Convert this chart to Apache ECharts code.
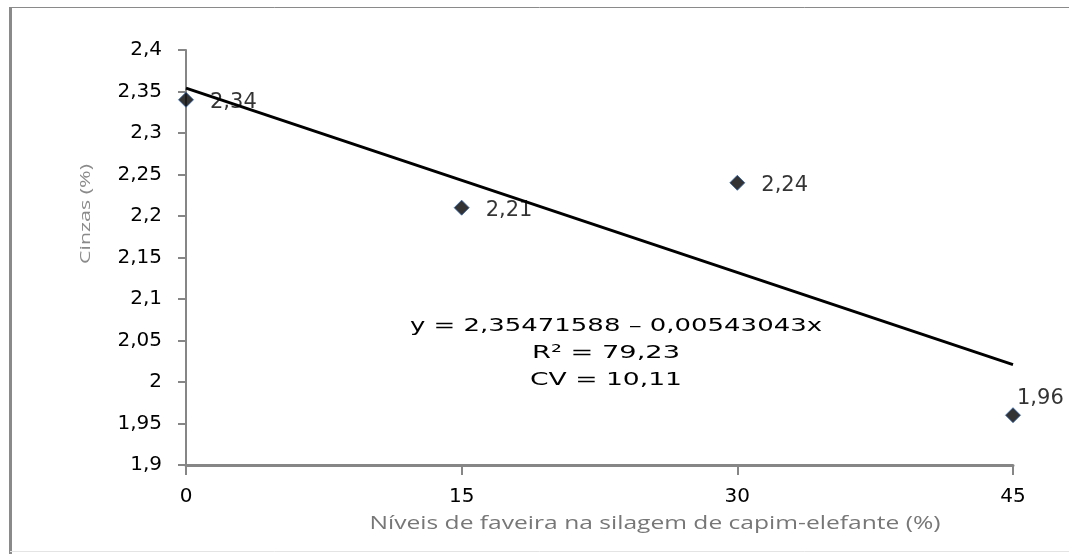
<!DOCTYPE html>
<html>
<head>
<meta charset="utf-8">
<script src="https://cdn.jsdelivr.net/npm/echarts@6/dist/echarts.min.js"></script>
<style>
  html, body { margin: 0; padding: 0; background: #fff; }
  #chart { width: 1069px; height: 554px; }
</style>
</head>
<body>
<div id="chart"></div>
<script>
// Ash content (%) by faveira level in elephant-grass silage
const levels = [0, 15, 30, 45];
const ash = [2.34, 2.21, 2.24, 1.96];
const xTicks = [0, 15, 30, 45];
const yRange = [1.9, 2.4];
const yStep = 0.05;
const equationLines = ['y = 2,35471588 – 0,00543043x', 'R² = 79,23', 'CV = 10,11'];
const xTitle = 'Níveis de faveira na silagem de capim-elefante (%)';
const yTitle = 'Cinzas (%)';

// least-squares linear trend through the observed points
function linearFit(xs, ys) {
  const n = xs.length;
  const mx = xs.reduce((a, b) => a + b, 0) / n;
  const my = ys.reduce((a, b) => a + b, 0) / n;
  let sxy = 0, sxx = 0;
  for (let i = 0; i < n; i++) {
    sxy += (xs[i] - mx) * (ys[i] - my);
    sxx += (xs[i] - mx) * (xs[i] - mx);
  }
  const b = sxy / sxx;
  return { a: my - b * mx, b: b };
}
const fit = linearFit(levels, ash);
const xFirst = levels[0], xLast = levels[levels.length - 1];
const trend = [[xFirst, fit.a + fit.b * xFirst], [xLast, fit.a + fit.b * xLast]];

const comma = v => (+(+v).toFixed(2)).toString().replace('.', ',');
const font = 'DejaVu Sans';
const axisGray = '#868686';

// widen free text horizontally so it spans the given width (the original uses a wide bitmap face)
const measureCtx = document.createElement('canvas').getContext('2d');
function stretch(text, cssFont, width) {
  measureCtx.font = cssFont;
  return width / measureCtx.measureText(text).width;
}
function wideText(text, cssFont, width, x, y, fill, opts) {
  const s = stretch(text, cssFont, width);
  return Object.assign({
    type: 'text', x: x, y: y, scaleX: s, scaleY: 1,
    style: { text: text, fill: fill, font: cssFont, align: 'center', verticalAlign: 'middle' }
  }, opts || {});
}

const eqFont = '18px "DejaVu Sans"';

const chart = echarts.init(document.getElementById('chart'), null, { renderer: 'canvas' });
chart.setOption({
  animation: false,
  backgroundColor: '#fff',
  grid: { left: 186, right: 56, top: 50, bottom: 89 },
  xAxis: {
    type: 'value',
    min: xTicks[0], max: xTicks[xTicks.length - 1], interval: xTicks[1] - xTicks[0],
    axisLine: { show: true, lineStyle: { color: axisGray, width: 3 } },
    axisTick: { show: true, length: 10, lineStyle: { color: axisGray, width: 2 } },
    axisLabel: { color: '#000', fontFamily: font, fontSize: 20, margin: 22 },
    splitLine: { show: false }
  },
  yAxis: {
    type: 'value',
    min: yRange[0], max: yRange[1], interval: yStep,
    axisLine: { show: true, lineStyle: { color: axisGray, width: 2 } },
    axisTick: { show: true, length: 8, lineStyle: { color: axisGray, width: 2 } },
    axisLabel: { color: '#000', fontFamily: font, fontSize: 20, margin: 24, formatter: comma },
    splitLine: { show: false }
  },
  series: [
    {
      type: 'scatter',
      data: levels.map((x, i) => [x, ash[i]]),
      symbol: 'diamond',
      symbolSize: 15,
      itemStyle: { color: '#000', borderColor: '#2f62a8', borderWidth: 1 },
      label: {
        show: true,
        position: 'right',
        distance: 16,
        color: '#000',
        fontFamily: font,
        fontSize: 21,
        formatter: p => comma(p.value[1])
      },
      labelLayout: p => (p.dataIndex === levels.length - 1 ? { dx: -20, dy: -17 } : { dy: 3 }),
      z: 2
    },
    {
      type: 'line',
      data: trend,
      symbol: 'none',
      lineStyle: { color: '#000', width: 3 },
      z: 3
    }
  ],
  graphic: [
    // outer frame
    { type: 'line', shape: { x1: 10.5, y1: 7, x2: 10.5, y2: 554 }, style: { stroke: '#8a8a8a', lineWidth: 3 } },
    { type: 'line', shape: { x1: 10, y1: 7.5, x2: 1069, y2: 7.5 }, style: { stroke: '#8a8a8a', lineWidth: 1 } },
    { type: 'line', shape: { x1: 10, y1: 551.5, x2: 1069, y2: 551.5 }, style: { stroke: '#e4e4e4', lineWidth: 1 } },
    // axis titles
    wideText(xTitle, '19px "Open Sans"', 571, 655, 524, '#777'),
    wideText(yTitle, '14px "Open Sans"', 100, 86, 214, '#8a8a8a', { rotation: Math.PI / 2 }),
    // regression annotation
    wideText(equationLines[0], eqFont, 412, 616, 326, '#000'),
    wideText(equationLines[1], eqFont, 148, 606, 353, '#000'),
    wideText(equationLines[2], eqFont, 152, 606, 380, '#000')
  ]
});
</script>
</body>
</html>
